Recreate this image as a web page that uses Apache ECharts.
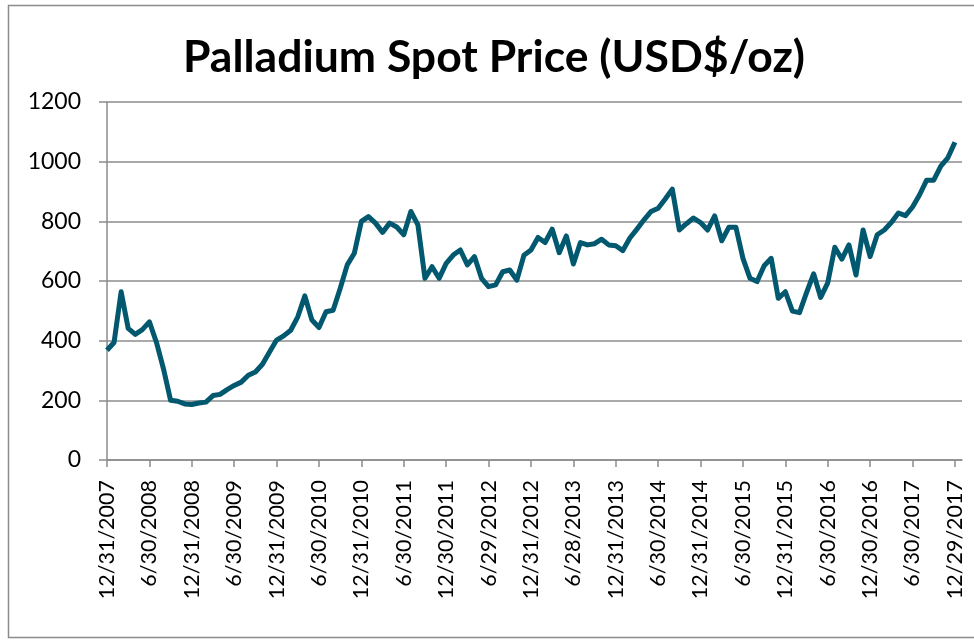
<!DOCTYPE html>
<html>
<head>
<meta charset="utf-8">
<script src="https://cdn.jsdelivr.net/npm/echarts@6/dist/echarts.min.js"></script>
<style>
  html, body { margin: 0; padding: 0; background: #fff; }
  #chart { width: 974px; height: 640px; }
</style>
</head>
<body>
<div id="chart"></div>
<script>
// month-end palladium price, Dec 2007 .. Dec 2017 (one value per month)
const prices = [
    368, 394, 564, 441, 421, 437, 463, 394, 305, 200,
    197, 188, 186, 191, 194, 216, 220, 236, 250, 261,
    284, 295, 321, 362, 402, 416, 435, 480, 550, 469,
    444, 497, 502, 575, 654, 693, 800, 816, 794, 763,
    794, 781, 755, 833, 788, 609, 648, 609, 659, 687,
    704, 654, 682, 609, 581, 587, 631, 637, 603, 686,
    704, 746, 729, 774, 695, 751, 657, 729, 721, 725,
    740, 721, 718, 702, 744, 774, 805, 833, 844, 875,
    908, 771, 792, 811, 796, 771, 818, 735, 780, 780,
    676, 609, 598, 651, 676, 542, 564, 499, 494, 561,
    624, 545, 594, 713, 673, 721, 620, 771, 682, 755,
    771, 796, 828, 819, 848, 889, 938, 938, 985, 1013,
    1065
];

// labels shown every 6 months on the x axis
const tickLabels = [
    "12/31/2007", "6/30/2008", "12/31/2008", "6/30/2009", "12/31/2009",
    "6/30/2010", "12/31/2010", "6/30/2011", "12/30/2011", "6/29/2012",
    "12/31/2012", "6/28/2013", "12/31/2013", "6/30/2014", "12/31/2014",
    "6/30/2015", "12/31/2015", "6/30/2016", "12/30/2016", "6/30/2017",
    "12/29/2017"
];

const yTicks = [0, 200, 400, 600, 800, 1000, 1200];

const tickIdx = tickLabels.map((_, i) => i * 6);
const seriesData = prices.map((v, i) => [i, v]);

const chart = echarts.init(document.getElementById("chart"));
const font = "Lato, 'Open Sans', sans-serif";
const gray = "#8c8c8c";

chart.setOption({
    animation: false,
    title: {
        text: "Palladium Spot Price (USD$/oz)",
        left: 183,
        top: 35,
        padding: 0,
        textStyle: {
            fontFamily: font,
            fontWeight: "bold",
            fontSize: 44.5,
            color: "#000"
        }
    },
    grid: {
        left: 107,
        right: 12,
        top: 102,
        bottom: 180
    },
    xAxis: {
        type: "value",
        min: 0,
        max: 121,
        axisLine: { lineStyle: { color: gray, width: 1.5 } },
        axisTick: {
            customValues: tickIdx,
            length: 7,
            lineStyle: { color: gray, width: 1.5 }
        },
        splitLine: { show: false },
        axisLabel: {
            customValues: tickIdx,
            rotate: 90,
            margin: 20,
            fontFamily: font,
            fontSize: 21.5,
            color: "#000",
            formatter: (v) => tickLabels[Math.round(v / 6)] || ""
        }
    },
    yAxis: {
        type: "value",
        min: yTicks[0],
        max: yTicks[yTicks.length - 1],
        interval: 200,
        axisLine: { show: true, lineStyle: { color: gray, width: 1.5 } },
        axisTick: { show: true, length: 8, lineStyle: { color: gray, width: 1.5 } },
        splitLine: { lineStyle: { color: gray, width: 1.5 } },
        axisLabel: {
            margin: 26,
            fontFamily: font,
            fontSize: 23,
            color: "#000",
            formatter: (v) => String(v)
        }
    },
    graphic: [{
        type: "rect",
        shape: { x: 8.5, y: 5.5, width: 1000, height: 632 },
        style: { fill: "none", stroke: gray, lineWidth: 1.5 },
        silent: true
    }],
    series: [{
        type: "line",
        data: seriesData,
        showSymbol: false,
        lineStyle: { color: "#02586e", width: 5, join: "round" }
    }]
});
</script>
</body>
</html>
